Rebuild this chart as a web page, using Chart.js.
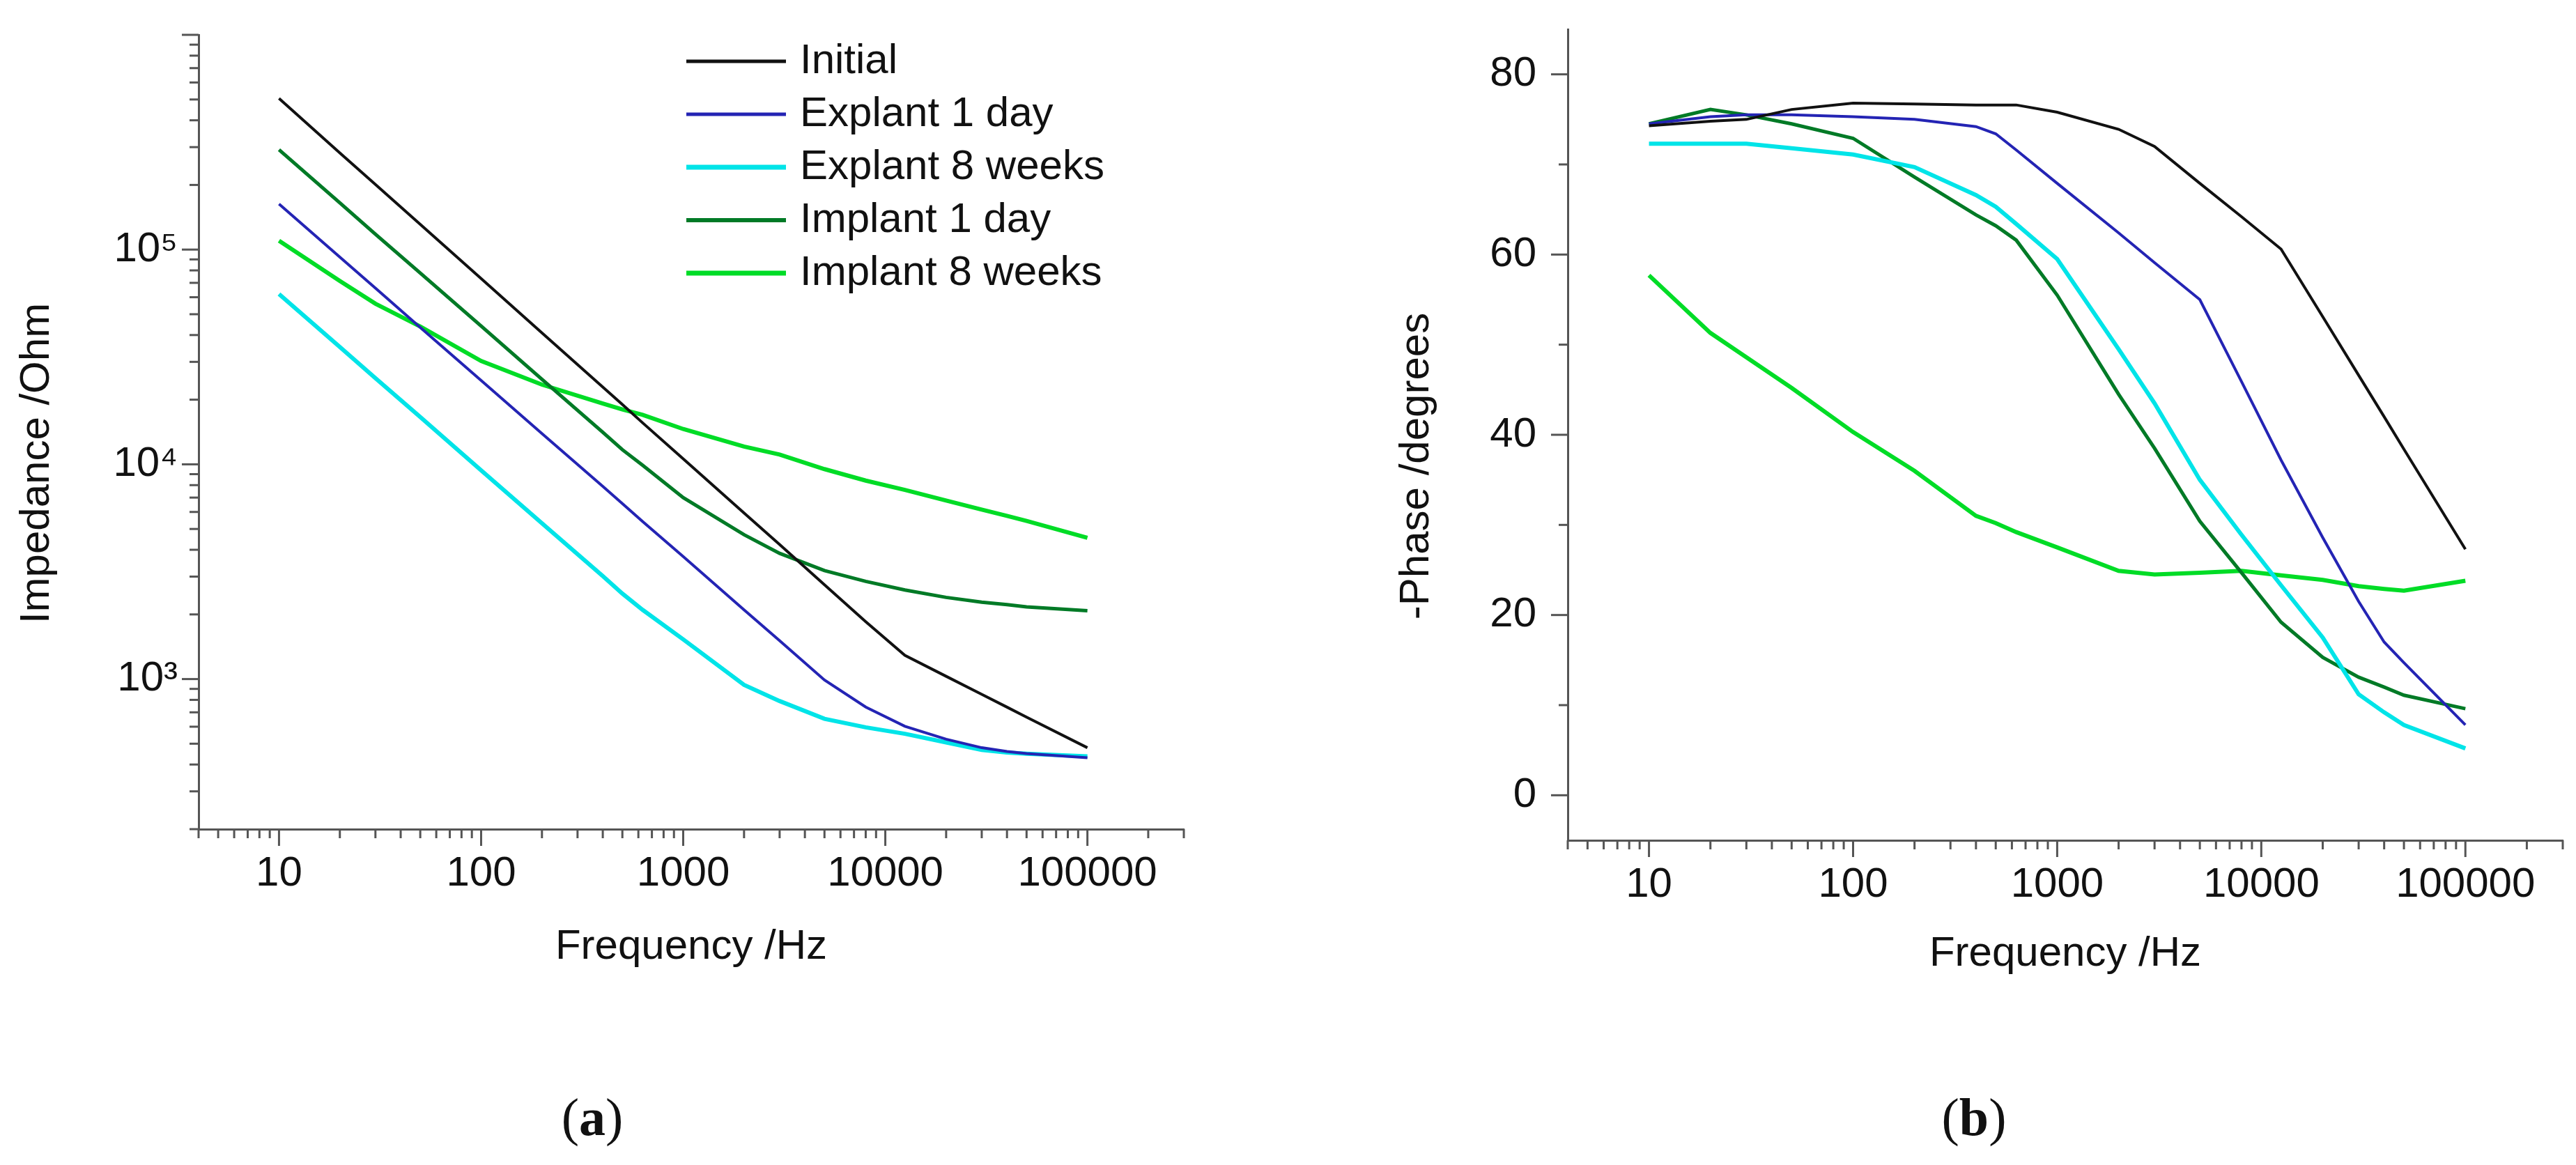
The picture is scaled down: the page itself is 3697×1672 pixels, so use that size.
<!DOCTYPE html>
<html>
<head>
<meta charset="utf-8">
<script src="https://cdn.jsdelivr.net/npm/chart.js@4.4.1/dist/chart.umd.min.js"></script>
<style>
  body { margin: 0; background: #fff; width: 3697px; height: 1672px; position: relative; overflow: hidden; }
  canvas { position: absolute; }
  .cap { position: absolute; font-family: "Liberation Serif", serif; font-size: 76px; color: #111; transform: translateX(-50%); }
</style>
</head>
<body>
<canvas id="imp" width="1800" height="1395" style="left:0;top:0"></canvas>
<canvas id="phase" width="1847" height="1405" style="left:1850px;top:0"></canvas>
<div class="cap" style="left:850px;top:1560px">(<b>a</b>)</div>
<div class="cap" style="left:2833px;top:1560px">(<b>b</b>)</div>
<script>
// frequency points (Hz)
const freqs = [10, 20, 30, 50, 100, 200, 400, 500, 630, 1000, 2000, 3000, 5000, 8000, 12500, 20000, 30000, 40000, 50000, 100000];

const seriesNames = ['Initial', 'Explant 1 day', 'Explant 8 weeks', 'Implant 1 day', 'Implant 8 weeks'];

// impedance /Ohm
const impInitial = [506000, 282000, 201000, 131000, 73300, 40900, 22900, 19000, 15600, 10600, 5930, 4230, 2750, 1850, 1290, 1030, 849, 740, 665, 479];
const impExp1d   = [163000, 92200, 66100, 43400, 24600, 13900, 7890, 6560, 5410, 3720, 2100, 1510, 990, 741, 603, 525, 479, 460, 450, 430];
const impExp8w   = [62100, 35200, 25200, 16600, 9380, 5310, 3020, 2500, 2100, 1530, 940, 790, 653, 596, 556, 507, 468, 455, 449, 437];
const impImp1d   = [292000, 165000, 118000, 77800, 44100, 24900, 14100, 11700, 9900, 7000, 4700, 3850, 3200, 2850, 2600, 2400, 2280, 2220, 2170, 2080];
const impImp8w   = [110000, 71400, 56000, 43800, 30300, 23500, 19200, 18000, 17000, 14600, 12100, 11100, 9500, 8400, 7600, 6780, 6150, 5750, 5450, 4550];

// -phase /degrees
const phInitial = [74.3, 74.8, 75.0, 76.1, 76.8, 76.7, 76.6, 76.6, 76.6, 75.8, 73.9, 72.0, 67.9, 64.2, 60.6, 53.1, 46.6, 42.0, 38.4, 27.3];
const phExp1d   = [74.5, 75.3, 75.5, 75.5, 75.3, 75.0, 74.2, 73.4, 71.6, 67.9, 62.4, 59.1, 55.0, 45.9, 37.2, 28.6, 21.5, 17.0, 14.7, 7.8];
const phExp8w   = [72.3, 72.3, 72.3, 71.8, 71.1, 69.7, 66.6, 65.3, 63.4, 59.5, 49.5, 43.5, 35.0, 28.9, 23.3, 17.5, 11.2, 9.2, 7.8, 5.2];
const phImp1d   = [74.5, 76.1, 75.5, 74.5, 72.9, 68.6, 64.4, 63.2, 61.6, 55.5, 44.5, 38.5, 30.4, 24.7, 19.2, 15.3, 13.1, 12.0, 11.1, 9.6];
const phImp8w   = [57.7, 51.3, 48.6, 45.2, 40.3, 36.0, 31.0, 30.2, 29.2, 27.5, 24.9, 24.5, 24.7, 24.9, 24.4, 23.9, 23.2, 22.9, 22.7, 23.8];

// tick positions
const freqTicks = [4, 5, 6, 7, 8, 9];
for (let e = 1; e <= 4; e++) for (let m = 1; m <= 9; m++) freqTicks.push(m * Math.pow(10, e));
freqTicks.push(100000, 200000, 300000);
const impTicks = [200, 300, 400, 500, 600, 700, 800, 900];
for (let e = 3; e <= 5; e++) for (let m = 1; m <= 9; m++) impTicks.push(m * Math.pow(10, e));
impTicks.push(1000000);
const phaseTicks = [0, 10, 20, 30, 40, 50, 60, 70, 80];

const colors = ['#111111', '#2424b4', '#00e4e8', '#007a26', '#00dc26'];
const widths = [4, 4, 6, 5, 6];
const sup = {3: '\u00b3', 4: '\u2074', 5: '\u2075'};
const FONT = '60px "Liberation Sans", Arial, sans-serif';

Chart.defaults.font.family = '"Liberation Sans", Arial, sans-serif';
Chart.defaults.color = '#111';

const isPow10 = v => Math.abs(Math.log10(v) - Math.round(Math.log10(v))) < 1e-9;

function makeSets(arrs) {
  return arrs.map((a, i) => ({
    label: seriesNames[i],
    data: a,
    borderColor: colors[i],
    borderWidth: widths[i],
    pointRadius: 0,
    tension: 0,
    fill: false
  }));
}

// outward tick marks, long for labelled ticks and short for the rest
const tickMarks = {
  id: 'tickMarks',
  afterDraw(chart) {
    const ctx = chart.ctx;
    ctx.save();
    ctx.strokeStyle = '#555';
    ctx.lineWidth = 3;
    Object.values(chart.scales).forEach(s => {
      s.ticks.forEach(t => {
        const major = s.type === 'logarithmic' ? isPow10(t.value) : t.value % 20 === 0;
        const len = major ? 24 : 13;
        const p = s.getPixelForValue(t.value);
        ctx.beginPath();
        if (s.isHorizontal()) { ctx.moveTo(p, s.top); ctx.lineTo(p, s.top + len); }
        else { ctx.moveTo(s.right, p); ctx.lineTo(s.right - len, p); }
        ctx.stroke();
      });
    });
    ctx.restore();
  }
};

// y axis title, placed a little below the axis middle as in the original
const yTitle = {
  id: 'yTitle',
  afterDraw(chart, args, o) {
    const ctx = chart.ctx;
    ctx.save();
    ctx.translate(o.x, o.y);
    ctx.rotate(-Math.PI / 2);
    ctx.font = FONT;
    ctx.fillStyle = '#111';
    ctx.textAlign = 'center';
    ctx.textBaseline = 'middle';
    ctx.fillText(chart.options.scales.y.title.text, 0, 0);
    ctx.restore();
  }
};

const insideLegend = {
  id: 'insideLegend',
  afterDatasetsDraw(chart, args, o) {
    if (!o.show) return;
    const ctx = chart.ctx;
    ctx.save();
    ctx.font = FONT;
    ctx.textBaseline = 'middle';
    chart.data.datasets.forEach((d, i) => {
      const y = o.y + i * o.row;
      ctx.strokeStyle = d.borderColor;
      ctx.lineWidth = d.borderWidth + 1;
      ctx.beginPath(); ctx.moveTo(o.x, y); ctx.lineTo(o.x + o.len, y); ctx.stroke();
      ctx.fillStyle = '#111';
      ctx.fillText(d.label, o.x + o.len + 20, y);
    });
    ctx.restore();
  }
};

function freqAxis(height) {
  return {
    type: 'logarithmic',
    min: 4, max: 300000,
    afterBuildTicks: s => { s.ticks = freqTicks.map(v => ({value: v})); },
    afterFit: s => { s.height = height; s.paddingLeft = s.paddingRight = 0; },
    grid: { display: false, drawTicks: false },
    border: { display: true, color: '#555', width: 3 },
    ticks: {
      autoSkip: false, maxRotation: 0, padding: 28,
      font: { size: 60 },
      callback: v => (isPow10(v) && v >= 10 && v <= 100000) ? String(v) : ''
    },
    title: { display: true, text: 'Frequency /Hz', font: { size: 60 }, padding: 0 }
  };
}

new Chart(document.getElementById('imp'), {
  type: 'line',
  data: { labels: freqs, datasets: makeSets([impInitial, impExp1d, impExp8w, impImp1d, impImp8w]) },
  options: {
    responsive: false, animation: false,
    layout: { padding: { left: 16, top: 50, right: 101, bottom: 0 } },
    plugins: { legend: { display: false }, tooltip: { enabled: false },
      insideLegend: { show: true, x: 985, y: 88, row: 76, len: 143 },
      yTitle: { x: 53, y: 665 } },
    scales: {
      x: freqAxis(205),
      y: {
        type: 'logarithmic',
        min: 200, max: 1000000,
        afterBuildTicks: s => { s.ticks = impTicks.map(v => ({value: v})); },
        afterFit: s => { s.width = 269; s.paddingTop = s.paddingBottom = 0; },
        grid: { display: false, drawTicks: false },
        border: { display: true, color: '#555', width: 3 },
        ticks: {
          autoSkip: false, padding: 30,
          font: { size: 60 },
          callback: v => (isPow10(v) && v <= 100000) ? '10' + sup[Math.round(Math.log10(v))] : ''
        },
        title: { display: false, text: 'Impedance /Ohm' }
      }
    }
  },
  plugins: [tickMarks, insideLegend, yTitle]
});

new Chart(document.getElementById('phase'), {
  type: 'line',
  data: { labels: freqs, datasets: makeSets([phInitial, phExp1d, phExp8w, phImp1d, phImp8w]) },
  options: {
    responsive: false, animation: false,
    layout: { padding: { left: 141, top: 42, right: 19, bottom: 0 } },
    plugins: { legend: { display: false }, tooltip: { enabled: false },
      insideLegend: { show: false },
      yTitle: { x: 183, y: 669 } },
    scales: {
      x: freqAxis(199),
      y: {
        type: 'linear',
        min: -5, max: 85,
        afterBuildTicks: s => { s.ticks = phaseTicks.map(v => ({value: v})); },
        afterFit: s => { s.width = 259; s.paddingTop = s.paddingBottom = 0; },
        grid: { display: false, drawTicks: false },
        border: { display: true, color: '#555', width: 3 },
        ticks: {
          autoSkip: false, padding: 45,
          font: { size: 60 },
          callback: v => v % 20 === 0 ? String(v) : ''
        },
        title: { display: false, text: '-Phase /degrees' }
      }
    }
  },
  plugins: [tickMarks, insideLegend, yTitle]
});
</script>
</body>
</html>
